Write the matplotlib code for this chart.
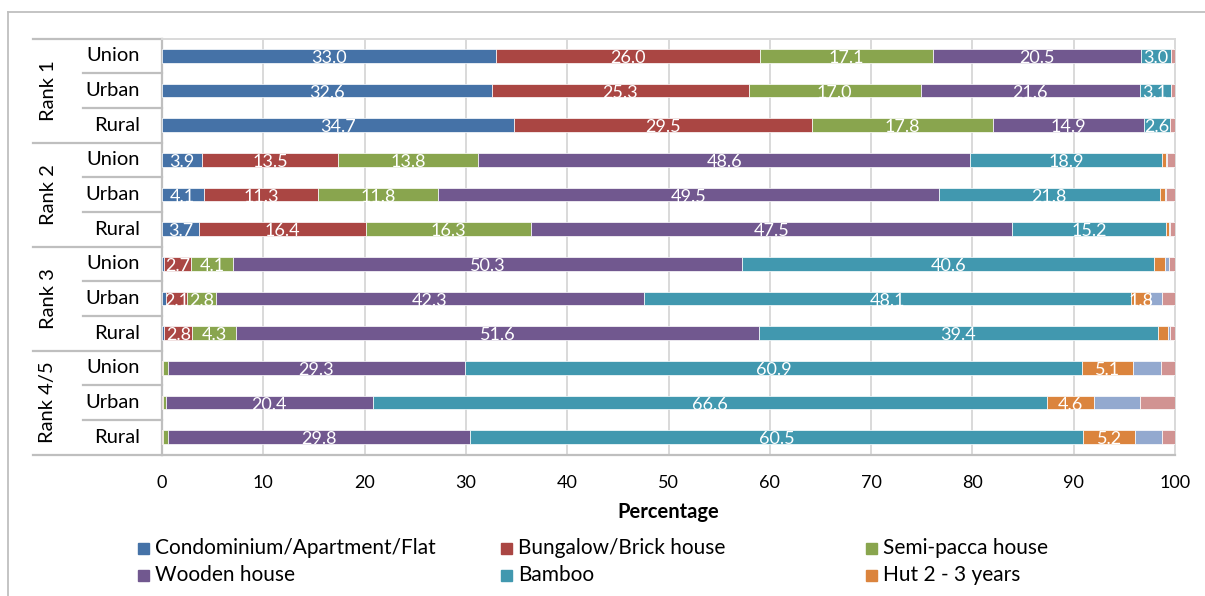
import matplotlib
matplotlib.use("Agg")
import matplotlib.pyplot as plt
import matplotlib.transforms as mtransforms
from matplotlib.patches import Rectangle
from matplotlib.lines import Line2D

plt.rcParams['font.family'] = ['Lato', 'DejaVu Sans']

# Rows from top to bottom: Rank 1..Rank 4/5, each Union / Urban / Rural
groups = ["Rank 1", "Rank 2", "Rank 3", "Rank 4/5"]
areas = ["Union", "Urban", "Rural"]

series_names = ["Condominium/Apartment/Flat", "Bungalow/Brick house", "Semi-pacca house",
                "Wooden house", "Bamboo", "Hut 2 - 3 years", "Hut 1 year", "Others"]
series_colors = ["#4572A7", "#AA4643", "#89A54E", "#71588F", "#4198AF", "#DB843D",
                 "#93A9CF", "#D19392"]

condo    = [33.0, 32.6, 34.7, 3.9, 4.1, 3.7, 0.2, 0.4, 0.2, 0.0, 0.0, 0.0]
bungalow = [26.0, 25.3, 29.5, 13.5, 11.3, 16.4, 2.7, 2.1, 2.8, 0.1, 0.1, 0.1]
semi     = [17.1, 17.0, 17.8, 13.8, 11.8, 16.3, 4.1, 2.8, 4.3, 0.5, 0.3, 0.5]
wooden   = [20.5, 21.6, 14.9, 48.6, 49.5, 47.5, 50.3, 42.3, 51.6, 29.3, 20.4, 29.8]
bamboo   = [3.0, 3.1, 2.6, 18.9, 21.8, 15.2, 40.6, 48.1, 39.4, 60.9, 66.6, 60.5]
hut23    = [0.0, 0.0, 0.0, 0.4, 0.5, 0.3, 1.1, 1.8, 1.0, 5.1, 4.6, 5.2]
hut1     = [0.0, 0.0, 0.0, 0.1, 0.1, 0.1, 0.4, 1.2, 0.2, 2.7, 4.5, 2.6]
others   = [0.4, 0.4, 0.5, 0.8, 0.9, 0.5, 0.6, 1.3, 0.5, 1.4, 3.5, 1.3]

series = [condo, bungalow, semi, wooden, bamboo, hut23, hut1, others]
labelled_series = 6      # data labels and legend entries for the first six series
label_min = 1.5

W, H = 1205, 596
fig = plt.figure(figsize=(W / 100, H / 100), dpi=100)

def fx(px):
    return px / W

def fy(py):
    return 1 - py / H

ax = fig.add_axes([fx(162), fy(454.5), fx(1175) - fx(162), fy(38.5) - fy(454.5)])

n_rows = len(groups) * len(areas)
ypos = list(range(n_rows))
left = [0.0] * n_rows
for k, (vals, name, col) in enumerate(zip(series, series_names, series_colors)):
    ax.barh(ypos, vals, left=left, height=0.4, color=col, edgecolor="white",
            linewidth=0.5, label=name, zorder=3)
    if k < labelled_series:
        for y, l, v in zip(ypos, left, vals):
            if v >= label_min:
                ax.text(l + v / 2, y + 0.06, f"{v:.1f}", ha="center", va="center",
                        color="white", fontsize=13, zorder=4)
    left = [a + b for a, b in zip(left, vals)]

ax.set_xlim(0, 100)
ax.set_ylim(n_rows - 0.5, -0.5)
ax.set_xticks(range(0, 101, 10))
ax.set_yticks([])
ax.tick_params(axis="x", length=0, pad=15, labelsize=13)
ax.grid(axis="x", color="#D9D9D9", linewidth=1.4, zorder=0)
for side in ("top", "right"):
    ax.spines[side].set_color("#D9D9D9")
    ax.spines[side].set_linewidth(1.4)
for side in ("left", "bottom"):
    ax.spines[side].set_color("#BFBFBF")
    ax.spines[side].set_linewidth(1.6)

# Category axis: row labels, group labels and separator lines
trans = mtransforms.blended_transform_factory(fig.transFigure, ax.transData)
for i in range(n_rows + 1):
    y = i - 0.5
    x0 = 33 if i % 3 == 0 else 83
    ax.add_line(Line2D([fx(x0), fx(162)], [y, y], transform=trans, color="#BFBFBF",
                       linewidth=1.6, clip_on=False))
for g, gname in enumerate(groups):
    for a, aname in enumerate(areas):
        r = g * 3 + a
        ax.text(fx(140), r, aname, transform=trans, ha="right", va="center", fontsize=14.5)
    ax.text(fx(48), g * 3 + 1, gname, transform=trans, ha="center", va="center",
            rotation=90, fontsize=14.5)

fig.text((fx(162) + fx(1175)) / 2, fy(512), "Percentage", ha="center", va="center",
         fontsize=14.5, fontweight="bold")

# Legend laid out in three equal columns
col_x = [138, 501, 866]
row_y = [548, 575]
sq = 11
for k in range(labelled_series):
    cx = col_x[k % 3]
    cy = row_y[k // 3]
    fig.patches.append(Rectangle((fx(cx), fy(cy + sq / 2)), sq / W, sq / H,
                                 transform=fig.transFigure, color=series_colors[k]))
    fig.text(fx(cx + 17), fy(cy), series_names[k], ha="left", va="center", fontsize=15)

# Chart frame
fig.add_artist(Line2D([fx(8), fx(8)], [fy(12), 0], transform=fig.transFigure,
                      color="#BFBFBF", linewidth=1.3))
fig.add_artist(Line2D([fx(8), 1], [fy(12), fy(12)], transform=fig.transFigure,
                      color="#BFBFBF", linewidth=1.3))

fig.savefig("out.png", dpi=100, facecolor="white")
